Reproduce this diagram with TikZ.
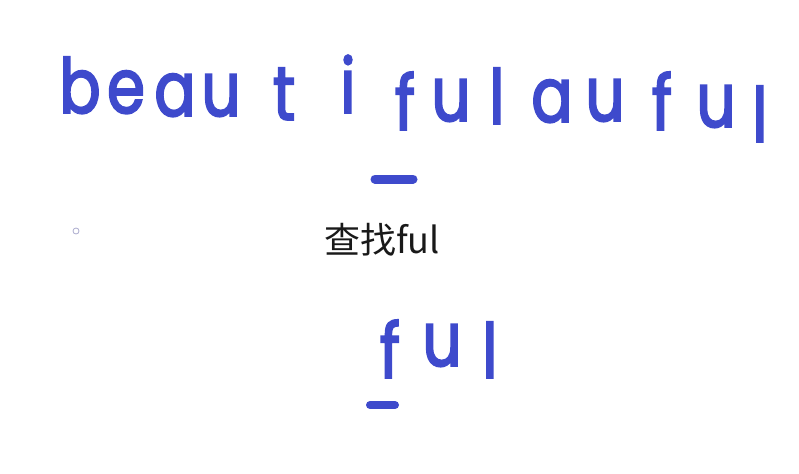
\documentclass[tikz,border=0pt]{standalone}
\usepackage{fontspec}
\newfontfamily\handfont{Poppins}[FakeBold=2.6, FakeStretch=0.8]
\newfontfamily\cjkfont{Noto Sans CJK SC}
\usetikzlibrary{positioning}
\definecolor{cInk}{RGB}{62,74,204}
\definecolor{cDot}{RGB}{170,170,205}
\tikzset{
	letter/.style ={anchor=base, inner sep=0pt, text=cInk, font=\handfont\fontsize{76}{76}\selectfont},
	uline/.style  ={draw=cInk, line width=9pt, line cap=round},
	caption/.style={inner sep=0pt, text=black!90, font=\cjkfont\fontsize{36}{36}\selectfont},
	dotmark/.style={circle, draw=cDot, line width=0.8pt, minimum size=6pt, inner sep=0pt},
}

\begin{document}
\begin{tikzpicture}[x=1pt, y=-1pt]
	\useasboundingbox (0,0) rectangle (799,473);
	\foreach \ch/\px/\py [count=\i] in {b/80/113, e/126/113, a/175/116, u/221/116, t/284/120, i/348/113, f/405/130,
		u/451/121, l/497/124, a/552/122, u/605/121, f/662/130, u/716/127, l/760/142}
		\node[letter] (top\i) at (\px,\py) {\ch};
	\draw[uline] (375,179) -- (413,179);
	\node[dotmark] (mark) at (76,231) {};
	\node[caption] (find) at (382,240) {查找ful};
	\foreach \ch/\px/\py [count=\i] in {f/390/378, u/442/366, l/490/378}
		\node[letter] (low\i) at (\px,\py) {\ch};
	\draw[uline, line width=8pt] (370,405) -- (395,405);
\end{tikzpicture}
\end{document}
